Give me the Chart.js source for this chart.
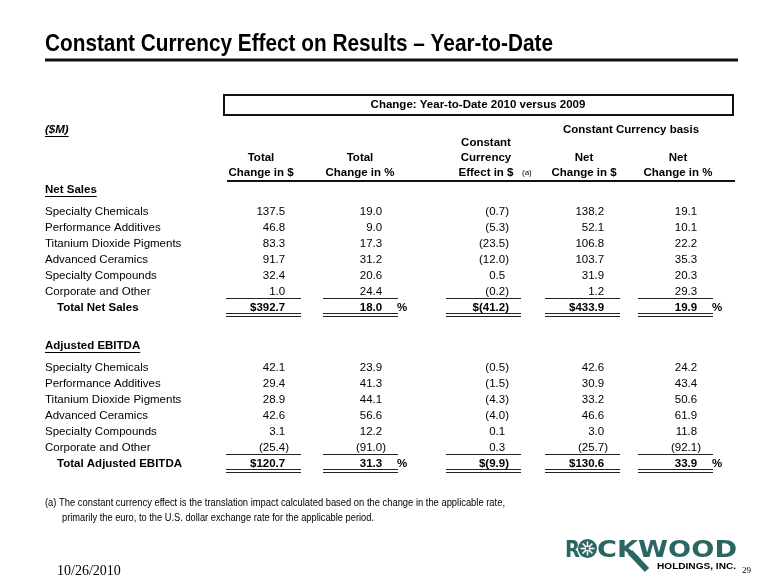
<!DOCTYPE html>
<html>
<head>
<meta charset="utf-8">
<script src="https://cdn.jsdelivr.net/npm/chart.js@4/dist/chart.umd.min.js"></script>
<style>
  html, body { margin: 0; padding: 0; background: #fff; }
  canvas { display: block; }
</style>
</head>
<body>
<canvas id="tbl" width="780" height="585"></canvas>
<script>
// === Data ===
const segments = ['Specialty Chemicals', 'Performance Additives', 'Titanium Dioxide Pigments',
  'Advanced Ceramics', 'Specialty Compounds', 'Corporate and Other'];
const columnHeads = [
  ['Total', 'Change in $'],
  ['Total', 'Change in %'],
  ['Constant', 'Currency', 'Effect in $'],
  ['Net', 'Change in $'],
  ['Net', 'Change in %']
];
const dollarCols = [true, false, true, true, false];

const salesTotalChg = [137.5, 46.8, 83.3, 91.7, 32.4, 1.0];
const salesTotalPct = [19.0, 9.0, 17.3, 31.2, 20.6, 24.4];
const salesFx       = [-0.7, -5.3, -23.5, -12.0, 0.5, -0.2];
const salesNetChg   = [138.2, 52.1, 106.8, 103.7, 31.9, 1.2];
const salesNetPct   = [19.1, 10.1, 22.2, 35.3, 20.3, 29.3];
const salesTotals   = [392.7, 18.0, -41.2, 433.9, 19.9];

const ebitdaTotalChg = [42.1, 29.4, 28.9, 42.6, 3.1, -25.4];
const ebitdaTotalPct = [23.9, 41.3, 44.1, 56.6, 12.2, -91.0];
const ebitdaFx       = [-0.5, -1.5, -4.3, -4.0, 0.1, 0.3];
const ebitdaNetChg   = [42.6, 30.9, 33.2, 46.6, 3.0, -25.7];
const ebitdaNetPct   = [24.2, 43.4, 50.6, 61.9, 11.8, -92.1];
const ebitdaTotals   = [120.7, 31.3, -9.9, 130.6, 33.9];

// === Layout (pixels in the slide's own units) ===
const colEdge = [289, 386, 509, 608, 701];     // right edge incl. ")"
const headCenter = [261, 360, 486, 584, 678];
const salesTop = 212, ebitdaTop = 368, rowStep = 16;
const FONT = '"Liberation Sans", Arial, Helvetica, sans-serif';
const TEAL = '#2b6663';

function fmt(v, dollar) {
  const s = Math.abs(v).toFixed(1);
  const body = v < 0 ? '(' + s + ')' : s;
  return (dollar ? '$' : '') + body;
}

// build one dataset per column, cells placed on the scales
const blocks = [
  { top: salesTop, cols: [salesTotalChg, salesTotalPct, salesFx, salesNetChg, salesNetPct], totals: salesTotals },
  { top: ebitdaTop, cols: [ebitdaTotalChg, ebitdaTotalPct, ebitdaFx, ebitdaNetChg, ebitdaNetPct], totals: ebitdaTotals }
];
const datasets = colEdge.map((edge, c) => {
  const pts = [];
  blocks.forEach(b => {
    b.cols[c].forEach((v, i) => pts.push({ x: edge, y: b.top + i * rowStep, txt: fmt(v, false), bold: false }));
    pts.push({ x: edge, y: b.top + segments.length * rowStep, txt: fmt(b.totals[c], dollarCols[c]), bold: true, total: true });
  });
  return { data: pts, pointRadius: 0, showLine: false };
});

// === Drawing helpers ===
function txt(ctx, s, x, y, font, align, color, maxW) {
  ctx.font = font;
  ctx.textAlign = align || 'left';
  ctx.textBaseline = 'middle';
  ctx.fillStyle = color || '#000';
  if (maxW) ctx.fillText(s, x, y, maxW); else ctx.fillText(s, x, y);
}
function hline(ctx, x1, x2, y, w, color) {
  ctx.beginPath();
  ctx.strokeStyle = color || '#000';
  ctx.lineWidth = w || 1;
  ctx.moveTo(x1, y);
  ctx.lineTo(x2, y);
  ctx.stroke();
}
function underlined(ctx, s, x, y, font) {
  txt(ctx, s, x, y, font);
  const w = ctx.measureText(s).width;
  hline(ctx, x, x + w, Math.round(y + 6) + 0.5, 1);
}
// draw text squeezed/stretched to an exact width
function fitText(ctx, s, x, y, width, font) {
  ctx.font = font;
  ctx.textAlign = 'left';
  ctx.textBaseline = 'alphabetic';
  const w = ctx.measureText(s).width;
  ctx.save();
  ctx.translate(x, y);
  ctx.scale(width / w, 1);
  ctx.fillText(s, 0, 0);
  ctx.restore();
}

const slidePlugin = {
  id: 'slide',
  beforeDraw(chart) {
    const ctx = chart.ctx;
    ctx.save();
    ctx.fillStyle = '#fff';
    ctx.fillRect(0, 0, chart.width, chart.height);
    ctx.restore();
  },
  afterDatasetsDraw(chart) {
    const ctx = chart.ctx;
    const X = v => chart.scales.x.getPixelForValue(v);
    const Y = v => chart.scales.y.getPixelForValue(v);
    const reg = '11.5px ' + FONT, bold = 'bold 11.5px ' + FONT;
    ctx.save();

    // title
    ctx.fillStyle = '#000';
    fitText(ctx, 'Constant Currency Effect on Results \u2013 Year-to-Date', X(45), Y(51), 508, 'bold 24px ' + FONT);
    hline(ctx, X(45), X(738), Y(60), 3, '#111');

    // header box
    ctx.lineWidth = 2;
    ctx.strokeStyle = '#111';
    ctx.strokeRect(X(224), Y(95), 509, 20);
    txt(ctx, 'Change: Year-to-Date 2010 versus 2009', X(478), Y(105), bold, 'center');

    underlined(ctx, '($M)', X(45), Y(130), 'italic bold 11.5px ' + FONT);
    txt(ctx, 'Constant Currency basis', X(631), Y(130), bold, 'center');

    // column heads, bottom-aligned
    columnHeads.forEach((lines, c) => {
      lines.forEach((s, k) => {
        const y = 173 - (lines.length - 1 - k) * 15;
        txt(ctx, s, X(headCenter[c]), Y(y), bold, 'center');
      });
    });
    txt(ctx, '(a)', X(522), Y(173), '8px ' + FONT, 'left');
    hline(ctx, X(227), X(735), Y(181), 2, '#111');

    // row labels
    blocks.forEach((b, bi) => {
      underlined(ctx, bi === 0 ? 'Net Sales' : 'Adjusted EBITDA', X(45), Y(b.top - 22), bold);
      segments.forEach((s, i) => txt(ctx, s, X(45), Y(b.top + i * rowStep), reg));
      txt(ctx, bi === 0 ? 'Total Net Sales' : 'Total Adjusted EBITDA', X(57), Y(b.top + segments.length * rowStep), bold);
    });

    // cells
    chart.data.datasets.forEach((ds, c) => {
      const meta = chart.getDatasetMeta(c);
      meta.data.forEach((el, i) => {
        const p = ds.data[i];
        ctx.font = p.bold ? bold : reg;
        const pw = ctx.measureText(')').width;
        const x = p.txt.endsWith(')') ? el.x : el.x - pw;
        txt(ctx, p.txt, x, el.y, p.bold ? bold : reg, 'right');
        if (p.total) {
          const x2 = el.x + 12, x1 = x2 - 75;
          hline(ctx, x1, x2, Math.round(el.y - 10) + 0.5, 1, '#222');
          hline(ctx, x1, x2, Math.round(el.y + 5) + 0.5, 1, '#222');
          hline(ctx, x1, x2, Math.round(el.y + 8) + 0.5, 1, '#222');
          if (c === 1 || c === 4) txt(ctx, '%', el.x + 11, el.y, bold, 'left');
        }
      });
    });

    // footnote
    const fn = '10px ' + FONT;
    txt(ctx, '(a) The constant currency effect is the translation impact calculated based on the change in the applicable rate,', X(45), Y(503), fn, 'left', '#000', 460);
    txt(ctx, 'primarily the euro, to the U.S. dollar exchange rate for the applicable period.', X(62), Y(518), fn, 'left', '#000', 312);

    // footer
    txt(ctx, '10/26/2010', X(57), Y(571), '14px "Liberation Serif", "Times New Roman", serif', 'left', '#000');
    txt(ctx, '29', X(742), Y(571), '9px "Liberation Serif", "Times New Roman", serif');

    // logo
    ctx.fillStyle = TEAL;
    ctx.strokeStyle = TEAL;
    ctx.lineWidth = 6;
    ctx.beginPath();
    ctx.moveTo(X(630), Y(552));
    ctx.lineTo(X(647), Y(570));
    ctx.stroke();
    const lf = 'bold 23px "DejaVu Sans", ' + FONT;
    fitText(ctx, 'R', X(565), Y(557), 15, lf);
    fitText(ctx, 'CKWOOD', X(597), Y(557), 140, lf);
    ctx.beginPath();
    ctx.arc(X(587.5), Y(548.5), 9.5, 0, Math.PI * 2);
    ctx.fill();
    ctx.strokeStyle = '#fff';
    ctx.lineWidth = 1.6;
    for (let k = 0; k < 8; k++) {
      const a = k * Math.PI / 4;
      ctx.beginPath();
      ctx.moveTo(X(587.5) + Math.cos(a) * 1.5, Y(548.5) + Math.sin(a) * 1.5);
      ctx.lineTo(X(587.5) + Math.cos(a) * 7, Y(548.5) + Math.sin(a) * 7);
      ctx.stroke();
    }
    ctx.fillStyle = '#000';
    fitText(ctx, 'HOLDINGS, INC.', X(657), Y(569), 79, 'bold 9px ' + FONT);

    ctx.restore();
  }
};

new Chart(document.getElementById('tbl'), {
  type: 'scatter',
  data: { datasets: datasets },
  options: {
    responsive: false,
    animation: false,
    devicePixelRatio: 1,
    events: [],
    layout: { padding: 0 },
    plugins: { legend: { display: false }, tooltip: { enabled: false } },
    scales: {
      x: { type: 'linear', display: false, min: 0, max: 780 },
      y: { type: 'linear', display: false, min: 0, max: 585, reverse: true }
    }
  },
  plugins: [slidePlugin]
});
</script>
</body>
</html>
